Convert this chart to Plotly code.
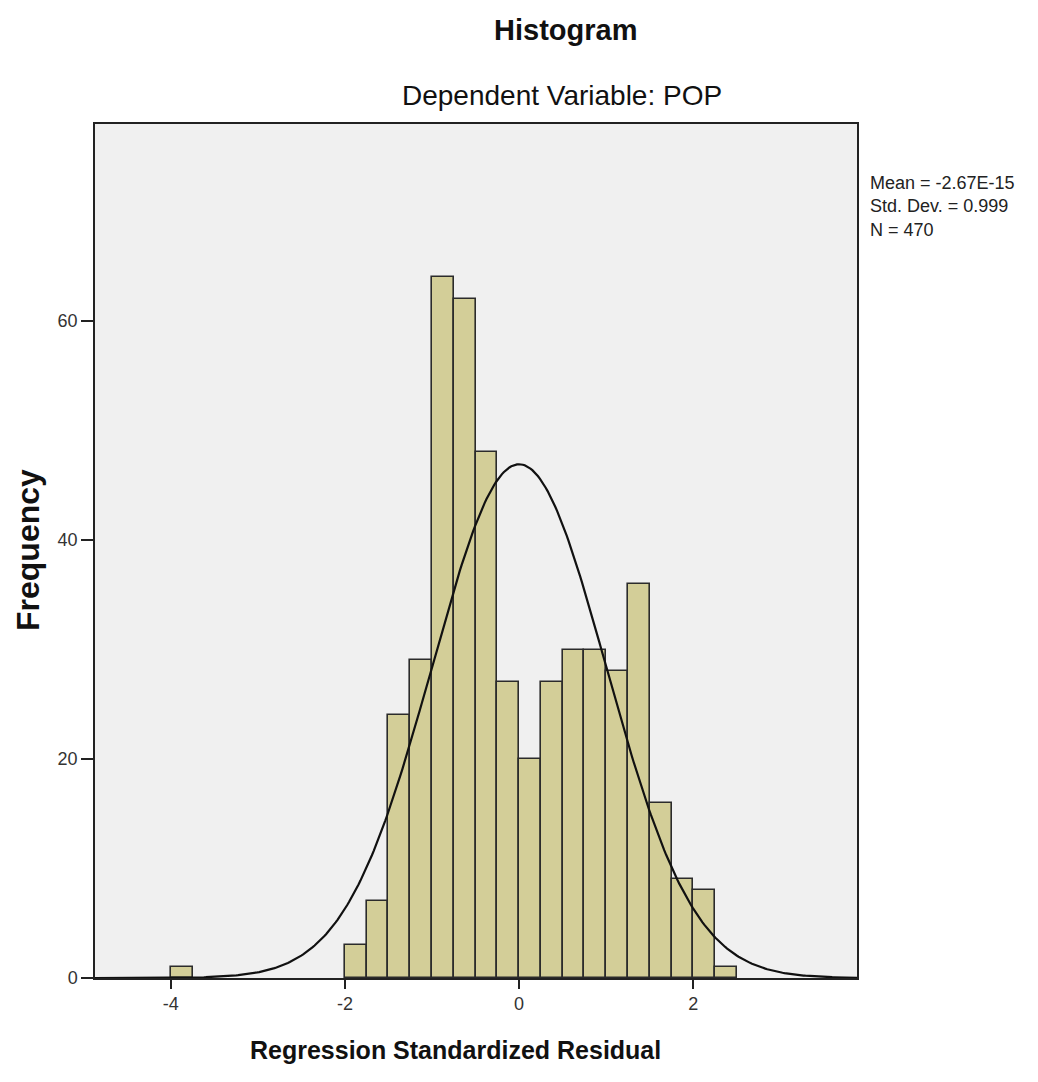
import numpy as np
import plotly.graph_objects as go

# Histogram data (bin left edges and counts), bin width 0.25
bin_left = [-4.0, -2.0, -1.75, -1.5, -1.25, -1.0, -0.75, -0.5, -0.25, 0.0, 0.25,
            0.5, 0.75, 1.0, 1.25, 1.5, 1.75, 2.0, 2.25]
counts = [1, 3, 7, 24, 29, 64, 62, 48, 27, 20, 27, 30, 30, 28, 36, 16, 9, 8, 1]
bin_width = 0.25

# Summary statistics shown on the chart
mean_val = -2.67e-15
sd_val = 0.999
n_val = 470

x_ticks = [-4, -2, 0, 2]
y_ticks = [0, 20, 40, 60]

centers = [b + bin_width / 2 for b in bin_left]

# Normal curve defined by the displayed mean / sd / N
xc = np.linspace(-4.87, 3.88, 400)
yc = n_val * bin_width * np.exp(-0.5 * ((xc - mean_val) / sd_val) ** 2) / (sd_val * np.sqrt(2 * np.pi))

fig = go.Figure()
fig.add_trace(go.Bar(
    x=centers, y=counts, width=bin_width,
    marker=dict(color="#D3CE98", line=dict(color="#2b2b2b", width=1.6)),
    showlegend=False, hoverinfo="x+y"))
fig.add_trace(go.Scatter(
    x=xc, y=yc, mode="lines", line=dict(color="#111111", width=2.2),
    showlegend=False, hoverinfo="skip"))

font_main = "Liberation Sans, Arial, sans-serif"

# plot area (page pixels): x 95..857, y 124..978 ; page has 8px body margin
L, T, W, H = 87, 116, 762, 854
def px(xp):
    return (xp - 95) / W
def py(yp):
    return (978 - yp) / H

fig.update_layout(
    width=1038, height=1082,
    margin=dict(l=L, r=1038 - L - W, t=T, b=1082 - T - H),
    paper_bgcolor="white",
    plot_bgcolor="#F0F0F0",
    bargap=0,
    font=dict(family=font_main, color="#222222"),
    xaxis=dict(range=[-4.87, 3.88], tickvals=x_ticks, ticktext=[str(v) for v in x_ticks],
               ticks="outside", ticklen=9, tickwidth=1.5, tickcolor="#222",
               showgrid=False, zeroline=False,
               showline=True, linecolor="#222", linewidth=1.5, mirror=True,
               tickfont=dict(size=18, color="#333")),
    yaxis=dict(range=[0, 78], tickvals=y_ticks, ticktext=[str(v) for v in y_ticks],
               ticks="outside", ticklen=12, tickwidth=1.5, tickcolor="#222",
               showgrid=False, zeroline=False,
               showline=True, linecolor="#222", linewidth=1.5, mirror=True,
               tickfont=dict(size=18, color="#333")),
    annotations=[
        dict(text="<b>Histogram</b>", x=px(565), y=py(30), xref="paper", yref="paper",
             showarrow=False, font=dict(size=29, color="#111"),
             xanchor="center", yanchor="middle"),
        dict(text="Dependent Variable: POP", x=px(562), y=py(95), xref="paper", yref="paper",
             showarrow=False, font=dict(size=28, color="#111"),
             xanchor="center", yanchor="middle"),
        dict(text=f"Mean = {mean_val:.2E}<br>Std. Dev. = {sd_val}<br>N = {n_val}",
             x=px(868), y=py(171), xref="paper", yref="paper",
             showarrow=False, align="left", xanchor="left", yanchor="top",
             font=dict(size=18, color="#222")),
        dict(text="<b>Regression Standardized Residual</b>", x=px(455), y=py(1050),
             xref="paper", yref="paper", showarrow=False,
             font=dict(size=25, color="#111"), xanchor="center", yanchor="middle"),
        dict(text="<b>Frequency</b>", x=px(28), y=py(550), textangle=-90,
             xref="paper", yref="paper", showarrow=False,
             font=dict(size=32, color="#111"), xanchor="center", yanchor="middle"),
    ],
)

fig.write_html("out.html")
